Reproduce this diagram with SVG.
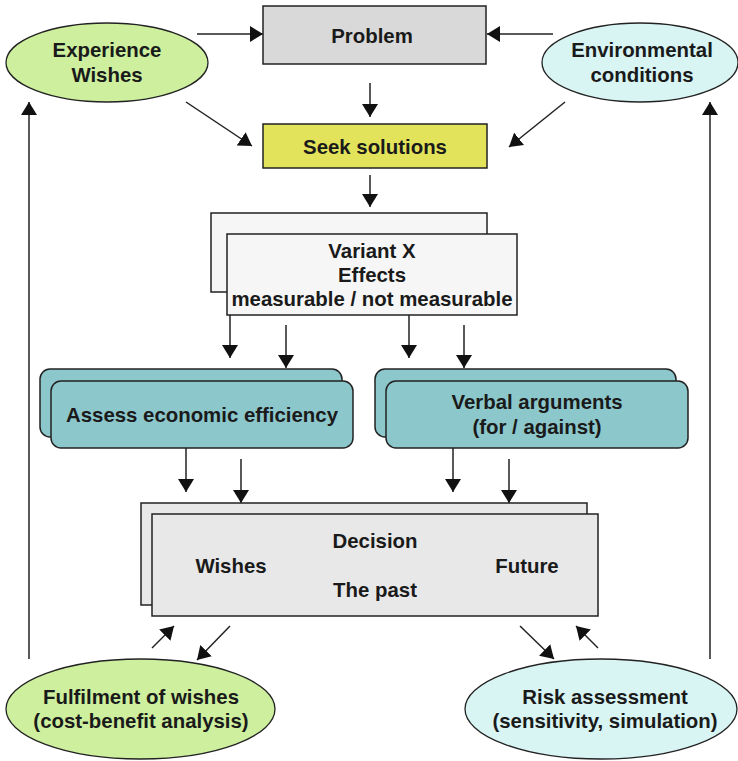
<svg xmlns="http://www.w3.org/2000/svg" width="738" height="761" viewBox="0 0 738 761">
  <defs>
    <marker id="head" markerUnits="userSpaceOnUse" markerWidth="14" markerHeight="16" refX="13" refY="8" orient="auto">
      <path d="M0,0 L13,8 L0,16 z" fill="#111"/>
    </marker>
    <style>
      text { font-family: "Liberation Sans", Arial, sans-serif; font-weight: bold; font-size: 20.4px; fill: #1a1a1a; text-anchor: middle; }
      .box { stroke: #222; stroke-width: 1.5; }
      .ell { stroke: #222; stroke-width: 1.3; }
      .green { fill: #cdef9e; }
      .cyan { fill: #d8f4f3; }
      .teal { fill: #8cc7cc; }
      #connectors line { stroke: #222; stroke-width: 1.5; fill: none; marker-end: url(#head); }
    </style>
  </defs>
  <rect width="738" height="761" fill="#fff"/>

  <!-- connectors -->
  <g id="connectors">
    <line x1="197" y1="34" x2="263" y2="34"/>
    <line x1="553" y1="34" x2="487" y2="34"/>
    <line x1="370" y1="83" x2="370" y2="117"/>
    <line x1="186" y1="102" x2="252" y2="146"/>
    <line x1="565" y1="102" x2="509" y2="147"/>
    <line x1="370" y1="175" x2="370" y2="207"/>
    <line x1="230" y1="315" x2="230" y2="358"/>
    <line x1="286" y1="325" x2="286" y2="368"/>
    <line x1="409" y1="315" x2="409" y2="358"/>
    <line x1="464" y1="325" x2="464" y2="368"/>
    <line x1="186" y1="448" x2="186" y2="492"/>
    <line x1="241" y1="459" x2="241" y2="503"/>
    <line x1="453" y1="448" x2="453" y2="492"/>
    <line x1="509" y1="459" x2="509" y2="503"/>
    <line x1="152" y1="648" x2="174" y2="626"/>
    <line x1="230" y1="626" x2="197" y2="660"/>
    <line x1="520" y1="626" x2="554" y2="659"/>
    <line x1="598" y1="648" x2="576" y2="626"/>
    <line x1="29" y1="659" x2="29" y2="102"/>
    <line x1="710" y1="659" x2="710" y2="102"/>
  </g>

  <g id="problem">
    <rect class="box" x="263" y="6" width="223" height="58" fill="#d9d9d9"/>
    <text x="372" y="43">Problem</text>
  </g>

  <g id="experience">
    <ellipse class="ell green" cx="107" cy="62.5" rx="101" ry="39.5"/>
    <text x="107" y="57">Experience</text>
    <text x="107" y="82">Wishes</text>
  </g>

  <g id="environment">
    <ellipse class="ell cyan" cx="640" cy="62.5" rx="98" ry="39.5"/>
    <text x="642" y="57">Environmental</text>
    <text x="642" y="82">conditions</text>
  </g>

  <g id="seek">
    <rect class="box" x="263" y="124" width="224" height="44" fill="#e3e35b"/>
    <text x="375" y="154">Seek solutions</text>
  </g>

  <g id="variant">
    <rect class="box" x="211" y="213" width="276" height="79" fill="#f6f6f6"/>
    <rect class="box" x="227" y="234" width="290" height="81" fill="#f6f6f6"/>
    <text x="372" y="258">Variant X</text>
    <text x="372" y="282">Effects</text>
    <text x="372" y="306">measurable / not measurable</text>
  </g>

  <g id="economic">
    <rect class="box teal" x="40" y="369" width="302" height="68" rx="10"/>
    <rect class="box teal" x="51" y="381" width="302" height="67" rx="10"/>
    <text x="202" y="422">Assess economic efficiency</text>
  </g>

  <g id="verbal">
    <rect class="box teal" x="375" y="369" width="301" height="68" rx="10"/>
    <rect class="box teal" x="386" y="381" width="302" height="67" rx="10"/>
    <text x="537" y="409">Verbal arguments</text>
    <text x="537" y="434">(for / against)</text>
  </g>

  <g id="decision">
    <rect class="box" x="141" y="503" width="446" height="102" fill="#e8e8e8"/>
    <rect class="box" x="152" y="514" width="446" height="102" fill="#e8e8e8"/>
    <text x="375" y="548">Decision</text>
    <text x="231" y="573">Wishes</text>
    <text x="527" y="573">Future</text>
    <text x="375" y="597">The past</text>
  </g>

  <g id="fulfilment">
    <ellipse class="ell green" cx="140.5" cy="709" rx="134.5" ry="50"/>
    <text x="141" y="704">Fulfilment of wishes</text>
    <text x="141" y="728">(cost-benefit analysis)</text>
  </g>

  <g id="risk">
    <ellipse class="ell cyan" cx="601" cy="709" rx="136" ry="50"/>
    <text x="605" y="704">Risk assessment</text>
    <text x="605" y="728">(sensitivity, simulation)</text>
  </g>
</svg>
